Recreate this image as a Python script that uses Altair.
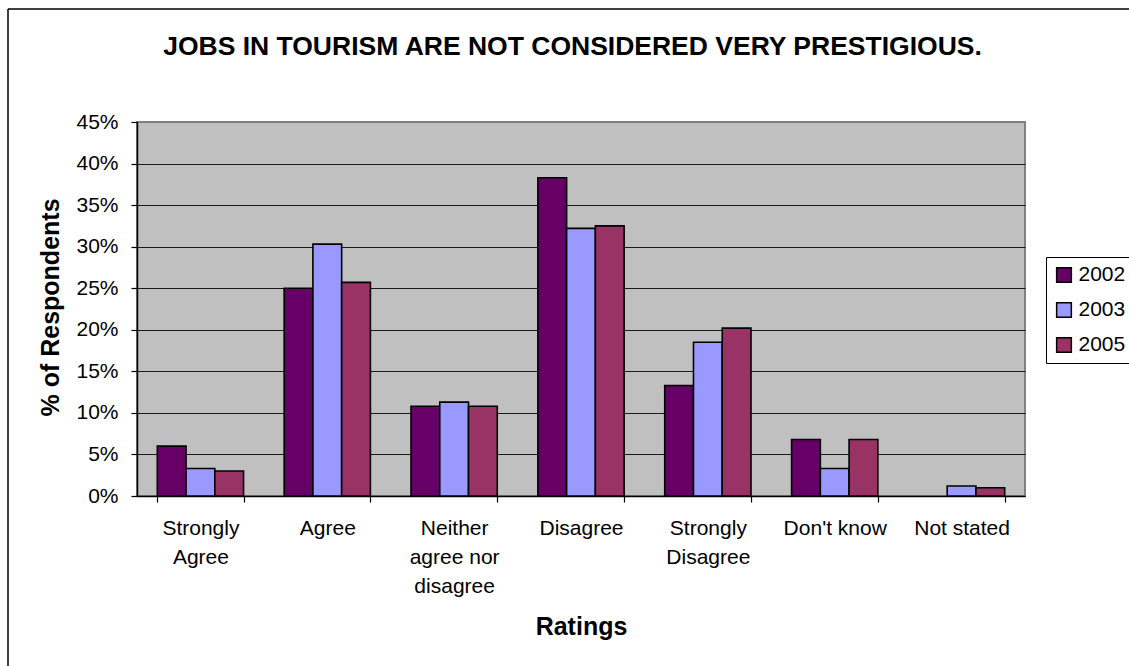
import altair as alt
import pandas as pd

categories = ["Strongly Agree", "Agree", "Neither agree nor disagree", "Disagree",
              "Strongly Disagree", "Don't know", "Not stated"]
label_lines = [["Strongly", "Agree"], ["Agree"], ["Neither", "agree nor", "disagree"],
               ["Disagree"], ["Strongly", "Disagree"], ["Don't know"], ["Not stated"]]
years = ["2002", "2003", "2005"]
values_2002 = [6.0, 25.0, 10.8, 38.3, 13.3, 6.8, None]
values_2003 = [3.3, 30.3, 11.3, 32.2, 18.5, 3.3, 1.2]
values_2005 = [3.0, 25.7, 10.8, 32.5, 20.2, 6.8, 1.0]
colors = ["#660066", "#9999FF", "#993366"]
y_ticks = [0, 5, 10, 15, 20, 25, 30, 35, 40, 45]
title_text = "JOBS IN TOURISM ARE NOT CONSIDERED VERY PRESTIGIOUS."

rows = []
for yr, vals in zip(years, [values_2002, values_2003, values_2005]):
    for c, v in zip(categories, vals):
        if v is not None:
            rows.append({"Rating": c, "Year": yr, "Value": v})
df = pd.DataFrame(rows)

# label expression for multi-line category labels
expr = "''"
for c, lines in reversed(list(zip(categories, label_lines))):
    arr = "[" + ",".join("'" + l.replace("'", "\\'") + "'" for l in lines) + "]"
    cc = c.replace("'", "\\'")
    expr = f"datum.value == '{cc}' ? {arr} : ({expr})"

FONT = "Liberation Sans"
W, H = 888, 374
PL, PT = 137, 122

bars = alt.Chart(df).mark_bar(stroke="black", strokeWidth=1.6).encode(
    x=alt.X("Rating:N", sort=categories,
            scale=alt.Scale(paddingInner=0.32, paddingOuter=0.16),
            axis=alt.Axis(title="Ratings", labelAngle=0, labelExpr=expr,
                          labelFontSize=21, labelLineHeight=29, labelPadding=15,
                          labelBaseline="top", labelColor="black", labelFont=FONT,
                          labelLimit=300,
                          tickBand="extent", tickSize=6, tickColor="black",
                          tickWidth=1.2, domainColor="black", domainWidth=1.5,
                          titleFontSize=25, titleFont=FONT, titleFontWeight="bold",
                          titleColor="black", titleX=W / 2, titleY=138,
                          titleBaseline="alphabetic", titleAlign="center")),
    xOffset=alt.XOffset("Year:N", sort=years, scale=alt.Scale(paddingInner=0, paddingOuter=0)),
    y=alt.Y("Value:Q", scale=alt.Scale(domain=[0, 45], nice=False),
            axis=alt.Axis(title="% of Respondents", values=y_ticks,
                          labelExpr="datum.value + '%'", labelFontSize=21,
                          labelFont=FONT, labelColor="black", labelPadding=13,
                          tickSize=6, tickColor="black", tickWidth=1.2,
                          domainColor="black", domainWidth=1.5,
                          grid=True,
                          gridColor={"condition": {"test": "datum.value >= 45", "value": "#808080"},
                                     "value": "#1a1a1a"},
                          gridWidth=1,
                          titleFontSize=25, titleFont=FONT, titleFontWeight="bold",
                          titleColor="black", titleAngle=270, titleX=-79,
                          titleY=H / 2 - 2, titleBaseline="alphabetic",
                          titleAlign="center")),
    color=alt.Color("Year:N", sort=years,
                    scale=alt.Scale(domain=years, range=colors),
                    legend=alt.Legend(title=None, orient="none", legendX=909, legendY=135,
                                      symbolType="square", symbolSize=216,
                                      symbolStrokeColor="black", symbolStrokeWidth=1.5,
                                      symbolOpacity=1,
                                      labelFontSize=21, labelFont=FONT, labelColor="black",
                                      labelOffset=4, rowPadding=13, padding=7.5,
                                      strokeColor="black", fillColor="white")),
)

one = alt.Data(values=[{}])
frame_top = alt.Chart(one).mark_rule(color="black", strokeWidth=1.5).encode(
    x=alt.value(8 - PL), x2=alt.value(1129 - PL), y=alt.value(9 - PT))
frame_left = alt.Chart(one).mark_rule(color="black", strokeWidth=1.5).encode(
    x=alt.value(8 - PL), y=alt.value(9 - PT), y2=alt.value(666 - PT))
title = alt.Chart(one).mark_text(font=FONT, fontSize=26.5, fontWeight="bold",
                                 color="black", align="center",
                                 baseline="alphabetic").encode(
    x=alt.value(572.5 - PL), y=alt.value(55 - PT), text=alt.value(title_text))

chart = alt.layer(bars, frame_top, frame_left, title).properties(
    width=W, height=H,
    autosize=alt.AutoSizeParams(type="none"),
    padding={"left": PL, "top": PT, "right": 1129 - PL - W, "bottom": 666 - PT - H},
    background="white",
).configure_view(fill="#C0C0C0", stroke="#808080", strokeWidth=2)

chart.save("out.html", embed_options={"renderer": "svg", "actions": False})
